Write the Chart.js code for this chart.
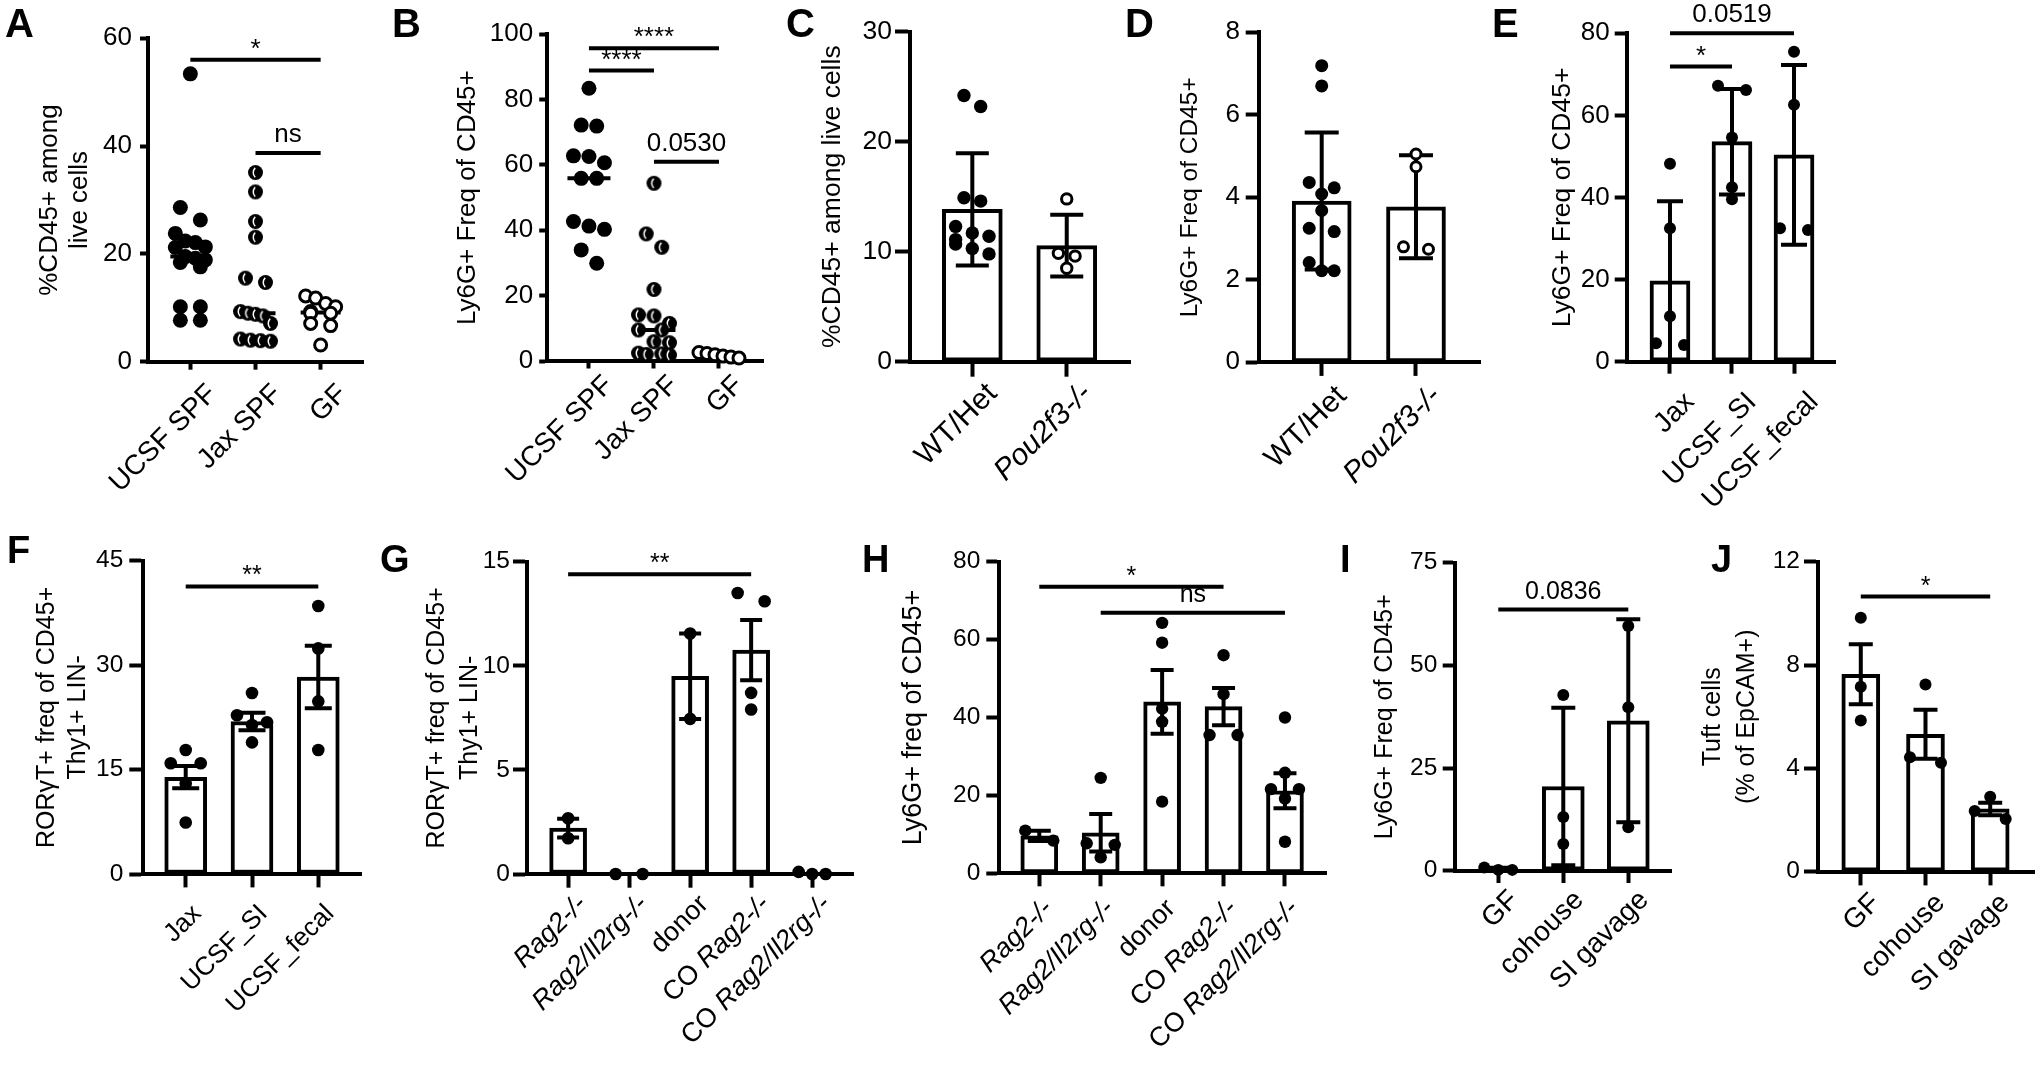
<!DOCTYPE html>
<html><head><meta charset="utf-8">
<script src="https://cdn.jsdelivr.net/npm/chart.js@4.4.1/dist/chart.umd.min.js"></script>
<style>
html,body{margin:0;padding:0;background:#fff;}
#fig{position:relative;width:2040px;height:1069px;overflow:hidden;background:#fff;}
#fig canvas{position:absolute;}
.lbl{position:absolute;font-family:"Liberation Sans",Arial,Helvetica,sans-serif;font-weight:bold;color:#000;white-space:nowrap;}
</style></head>
<body><div id="fig"></div>
<script>
// ================= DATA =================
// A
const catsA = ['UCSF SPF', 'Jax SPF', 'GF'];
const yTicksA = [0, 20, 40, 60];
const A_ucsf = [53.4, 28.6, 26.3, 23.8, 22.4, 22.1, 21.3, 21.2, 19.5, 19.2, 18.9, 18.4, 17.6, 10.2, 10.2, 7.7, 7.7];
const A_jax = [35.1, 31.5, 26.0, 23.1, 15.5, 14.7, 9.3, 9.0, 8.8, 8.5, 7.1, 4.2, 4.0, 3.9, 3.8];
const A_gf = [12.2, 11.8, 10.8, 10.2, 9.3, 9.0, 9.0, 7.1, 6.7, 3.1];
const sigA = [[0, 2, 56.0, '*'], [1, 2, 38.7, 'ns']];
// B
const catsB = ['UCSF SPF', 'Jax SPF', 'GF'];
const yTicksB = [0, 20, 40, 60, 80, 100];
const B_ucsf = [83.5, 72.2, 71.9, 62.8, 62.6, 60.7, 55.9, 55.9, 42.7, 41.3, 40.3, 34.0, 29.9];
const B_jax = [54.4, 38.9, 34.8, 21.9, 14.1, 13.8, 11.5, 9.5, 9.5, 5.9, 5.6, 2.4, 2.2, 2.0, 1.8];
const B_gf = [2.6, 2.3, 1.9, 1.5, 1.2, 0.9];
const sigB = [[0, 2, 95.7, '****'], [0, 1, 88.9, '****'], [1, 2, 61.0, '0.0530']];
// C
const catsC = ['WT/Het', 'Pou2f3-/-'];
const yTicksC = [0, 10, 20, 30];
const C_mean = [13.85, 10.55];
const C_err = [5.1, 2.8];
const C_wt = [24.2, 23.2, 14.9, 14.6, 12.3, 11.7, 11.4, 11.1, 10.7, 10.3, 9.8];
const C_ko = [14.8, 9.85, 9.6, 8.5];
// D
const catsD = ['WT/Het', 'Pou2f3-/-'];
const yTicksD = [0, 2, 4, 6, 8];
const D_mean = [3.91, 3.77];
const D_err = [1.66, 1.25];
const D_wt = [7.19, 6.70, 4.36, 4.23, 4.08, 3.68, 3.25, 3.17, 2.42, 2.22, 2.22];
const D_ko = [5.05, 4.74, 2.80, 2.74];
// E
const catsE = ['Jax', 'UCSF_SI', 'UCSF_fecal'];
const yTicksE = [0, 20, 40, 60, 80];
const E_mean = [19.7, 53.6, 50.4];
const E_err = [19.4, 12.85, 21.9];
const E_jax = [48.2, 32.5, 11.1, 4.47, 4.06];
const E_si = [67.2, 66.2, 54.6, 42.5, 39.6];
const E_fecal = [75.5, 62.6, 32.5, 32.1];
const sigE = [[0, 2, 80.0, '0.0519'], [0, 1, 71.9, '*']];
// F
const catsF = ['Jax', 'UCSF_SI', 'UCSF_fecal'];
const yTicksF = [0, 15, 30, 45];
const F_mean = [13.9, 21.9, 28.3];
const F_err = [1.6, 1.25, 4.5];
const F_jax = [17.8, 15.9, 15.9, 13.0, 7.4];
const F_si = [26.0, 22.8, 21.8, 21.4, 18.9];
const F_fecal = [38.5, 32.4, 24.8, 17.8];
const sigF = [[0, 2, 41.3, '**']];
// G
const catsG = ['Rag2-/-', 'Rag2/Il2rg-/-', 'donor', 'CO Rag2-/-', 'CO Rag2/Il2rg-/-'];
const yTicksG = [0, 5, 10, 15];
const G_mean = [2.2, 0, 9.5, 10.75, 0];
const G_err = [0.45, 0, 2.05, 1.45, 0];
const G_rag2 = [2.68, 1.72];
const G_dko = [0, 0];
const G_donor = [11.55, 7.45];
const G_coRag2 = [13.5, 13.1, 8.7, 7.9];
const G_coDko = [0, 0.1, 0];
const sigG = [[0, 3, 14.4, '**']];
// H
const catsH = ['Rag2-/-', 'Rag2/Il2rg-/-', 'donor', 'CO Rag2-/-', 'CO Rag2/Il2rg-/-'];
const yTicksH = [0, 20, 40, 60, 80];
const H_mean = [9.6, 10.4, 44.0, 42.8, 21.2];
const H_err = [1.3, 4.8, 8.2, 4.8, 4.5];
const H_rag2 = [10.95, 8.4];
const H_dko = [24.5, 7.7, 7.3, 4.1];
const H_donor = [64.3, 59.2, 42.3, 38.9, 18.4];
const H_coRag2 = [56.0, 46.0, 35.5, 35.5];
const H_coDko = [40.0, 25.8, 21.6, 21.6, 19.2, 8.1];
const sigH = [[0, 3, 73.6, '*'], [1, 4, 66.9, 'ns']];
// I
const catsI = ['GF', 'cohouse', 'SI gavage'];
const yTicksI = [0, 25, 50, 75];
const I_mean = [0.4, 20.5, 36.5];
const I_err = [0.3, 19.2, 24.7];
const I_gf = [0.8, 0.2, 0.2];
const I_co = [42.8, 13.1, 6.5];
const I_si = [59.6, 39.8, 10.6];
const sigI = [[0, 2, 63.6, '0.0836']];
// J
const catsJ = ['GF', 'cohouse', 'SI gavage'];
const yTicksJ = [0, 4, 8, 12];
const J_mean = [7.64, 5.32, 2.43];
const J_err = [1.16, 0.95, 0.24];
const J_gf = [9.83, 7.16, 5.85];
const J_co = [7.25, 4.43, 4.22];
const J_si = [2.90, 2.35, 2.04];
const sigJ = [[0, 2, 10.65, '*']];

// ================= STYLE / LAYOUT =================
const FONT = '"Liberation Sans", Arial, Helvetica, sans-serif';
const LW = 4;
const SIG_GAP = 9;
Chart.defaults.font.family = FONT;
Chart.defaults.color = '#000';

const PANELS = [
  {letter:['A',5,37,40], box:[0,0,390,520], area:[148,38.3,363,361.7], cats:catsA, x:[-0.65,2.65], yt:yTicksA,
   groups:[{v:A_ucsf,k:'fill'},{v:A_jax,k:'half'},{v:A_gf,k:'open'}], median:true, medW:40, sig:sigA,
   tickLen:8, tickPad:8, tickFont:26, title:['%CD45+ among','live cells'], titleFont:26, titleLH:30, titleX:50,
   labFont:28, labDx:14, labDy:20, sigFont:26, dotR:7.5, sw:[20,30]},
  {letter:['B',392,37,40], box:[390,0,400,520], area:[546.7,34.3,763,361], cats:catsB, x:[-0.65,2.677], yt:yTicksB,
   groups:[{v:B_ucsf,k:'fill'},{v:B_jax,k:'half'},{v:B_gf,k:'open'}], median:true, medW:43, sig:sigB,
   tickLen:7.5, tickPad:6, tickFont:26, title:['Ly6G+ Freq of CD45+'], titleFont:26, titleLH:30, titleX:468.3,
   labFont:28, labDx:12, labDy:12, sigFont:26, dotR:7.5, sw:[15.5,40]},
  {letter:['C',786,37,40], box:[790,0,350,520], area:[910,31.7,1130,361.7], cats:catsC, x:[-0.66,1.67], yt:yTicksC,
   mean:C_mean, err:C_err, barW:60, capW:33,
   groups:[{v:C_wt,k:'fill'},{v:C_ko,k:'open'}], sig:[],
   tickLen:15, tickPad:3, tickFont:26.5, title:['%CD45+ among live cells'], titleFont:26.5, titleLH:30.5, titleX:833,
   labFont:30, labDx:12, labDy:19, sigFont:26, dotR:6.7, sw:[16.7,50]},
  {letter:['D',1125,37,40], box:[1140,0,370,520], area:[1259.3,32.3,1480,362.3], cats:catsD, x:[-0.662,1.679], yt:yTicksD,
   mean:D_mean, err:D_err, barW:59, capW:34,
   groups:[{v:D_wt,k:'fill'},{v:D_ko,k:'open'}], sig:[],
   tickLen:13.6, tickPad:5.7, tickFont:26, title:['Ly6G+ Freq of CD45+'], titleFont:24.5, titleLH:28, titleX:1190,
   labFont:30, labDx:12, labDy:21, sigFont:26, dotR:6.5, sw:[25,50]},
  {letter:['E',1492,37,40], box:[1510,0,530,520], area:[1626.7,33.3,1835,361.7], cats:catsE, x:[-0.698,2.661], yt:yTicksE,
   mean:E_mean, err:E_err, barW:40, capW:26,
   groups:[{v:E_jax,k:'fill'},{v:E_si,k:'fill'},{v:E_fecal,k:'fill'}], sig:sigE,
   tickLen:12, tickPad:5, tickFont:26, title:['Ly6G+ Freq of CD45+'], titleFont:26.5, titleLH:30, titleX:1563,
   labFont:28, labDx:12, labDy:28, sigFont:26, dotR:6, sw:[28,56]},
  {letter:['F',7,563,38], box:[0,520,380,549], area:[142.7,560.7,361.7,874], cats:catsF, x:[-0.649,2.655], yt:yTicksF,
   mean:F_mean, err:F_err, barW:42, capW:27,
   groups:[{v:F_jax,k:'fill'},{v:F_si,k:'fill'},{v:F_fecal,k:'fill'}], sig:sigF,
   tickLen:13.4, tickPad:6, tickFont:24.5, title:['RORγT+ freq of CD45+','Thy1+ LIN-'], titleFont:25, titleLH:31.6, titleX:46.7,
   labFont:26, labDx:4, labDy:28, sigFont:25, dotR:6.3, sw:[30,60]},
  {letter:['G',380,572,38], box:[380,520,480,549], area:[526.7,561.7,855,874], cats:catsG, x:[-0.679,4.681], yt:yTicksG,
   mean:G_mean, err:G_err, barW:37, capW:22,
   groups:[{v:G_rag2,k:'fill'},{v:G_dko,k:'fill'},{v:G_donor,k:'fill'},{v:G_coRag2,k:'fill'},{v:G_coDko,k:'fill'}], sig:sigG,
   tickLen:13.7, tickPad:3, tickFont:24.5, title:['RORγT+ freq of CD45+','Thy1+ LIN-'], titleFont:25, titleLH:33.3, titleX:436.7,
   labFont:27, labDx:6, labDy:18, sigFont:25, dotR:6.3, sw:[27,28]},
  {letter:['H',862,572,38], box:[860,520,480,549], area:[999.3,561.7,1326,873.3], cats:catsH, x:[-0.651,4.668], yt:yTicksH,
   mean:H_mean, err:H_err, barW:37, capW:23,
   groups:[{v:H_rag2,k:'fill'},{v:H_dko,k:'fill'},{v:H_donor,k:'fill'},{v:H_coRag2,k:'fill'},{v:H_coDko,k:'fill'}], sig:sigH,
   tickLen:13, tickPad:6, tickFont:24.5, title:['Ly6G+ freq of CD45+'], titleFont:27, titleLH:31, titleX:913.3,
   labFont:27, labDx:1, labDy:23, sigFont:25, dotR:6.2, sw:[28,56]},
  {letter:['I',1340,572,38], box:[1340,520,350,549], area:[1455,562.7,1671.7,870.7], cats:catsI, x:[-0.666,2.668], yt:yTicksI,
   mean:I_mean, err:I_err, barW:42, capW:24,
   groups:[{v:I_gf,k:'fill'},{v:I_co,k:'fill'},{v:I_si,k:'fill'}], sig:sigI,
   tickLen:12.3, tickPad:5.4, tickFont:24.5, title:['Ly6G+ Freq of CD45+'], titleFont:25, titleLH:29, titleX:1385,
   labFont:28, labDx:8, labDy:17, sigFont:25, dotR:6, sw:[28,30]},
  {letter:['J',1711,572,38], box:[1690,520,350,549], area:[1817.7,561.7,2035,871.7], cats:catsJ, x:[-0.666,2.677], yt:yTicksJ,
   mean:J_mean, err:J_err, barW:38, capW:24,
   groups:[{v:J_gf,k:'fill'},{v:J_co,k:'fill'},{v:J_si,k:'fill'}], sig:sigJ,
   tickLen:13.7, tickPad:4, tickFont:24.5, title:['Tuft cells','(% of EpCAM+)'], titleFont:25, titleLH:33.4, titleX:1713.3,
   labFont:28, labDx:7, labDy:19, sigFont:25, dotR:6, sw:[31,62]}
];

// ================= HELPERS =================
const fig = document.getElementById('fig');

function italicSegments(label) {
  return label.split(/(Rag2\S*|Pou2f3\S*)/).filter(s => s.length)
    .map(s => ({text: s, it: /^(Rag2|Pou2f3)/.test(s)}));
}
function median(a) {
  const s = [...a].sort((x, y) => x - y); const n = s.length;
  return n % 2 ? s[(n - 1) / 2] : (s[n / 2 - 1] + s[n / 2]) / 2;
}
function makeHalfMarker(r) {
  const c = document.createElement('canvas');
  const s = Math.ceil(2 * r + 2); c.width = s; c.height = s;
  const g = c.getContext('2d');
  g.beginPath(); g.arc(s / 2, s / 2, r, 0, 2 * Math.PI); g.fillStyle = '#000'; g.fill();
  g.strokeStyle = '#fff'; g.lineWidth = 1.5;
  g.beginPath(); g.arc(s / 2 + r * 0.55, s / 2, r * 0.85, Math.PI * 0.74, Math.PI * 1.26); g.stroke();
  return c;
}
function markerStyle(kind, r) {
  if (kind === 'open') return {pointStyle: 'circle', pointRadius: r - 1.5, pointBackgroundColor: '#fff', pointBorderColor: '#000', pointBorderWidth: 3};
  if (kind === 'half') return {pointStyle: makeHalfMarker(r), pointRadius: r};
  return {pointStyle: 'circle', pointRadius: r, pointBackgroundColor: '#000', pointBorderColor: '#000', pointBorderWidth: 0};
}
// Prism-like symmetric point arrangement (pixel space)
function swarm(vals, ppu, d, s, W) {
  const order = vals.map((v, i) => i).sort((a, b) => vals[b] - vals[a] || a - b);
  const pts = [];
  const lim = d * 0.95;
  const spread = row => { const n = row.length; const sp = n > 1 ? Math.min(s, W / (n - 1)) : 0; row.forEach((p, k) => p.x = (k - (n - 1) / 2) * sp); };
  for (const i of order) {
    const y = vals[i] * ppu;
    const hit = pts.find(p => Math.hypot(p.x, p.y - y) < lim);
    if (!hit) { const p = {i, x: 0, y}; p.row = [p]; pts.push(p); continue; }
    const row = hit.row;
    if (Math.abs(row[0].y - y) < d * 0.9) { const p = {i, x: 0, y, row}; row.push(p); pts.push(p); spread(row); continue; }
    let best = 0, bestD = -1;
    outer: for (let k = 1; k <= 20; k++) {
      for (const sg of [-1, 1]) {
        const x = sg * k * s / 2;
        if (Math.abs(x) > W / 2 + 0.01) break outer;
        const m = Math.min(...pts.map(p => Math.hypot(p.x - x, p.y - y)));
        if (m >= lim) { best = x; break outer; }
        if (m > bestD) { bestD = m; best = x; }
      }
    }
    const p = {i, x: best, y}; p.row = [p]; pts.push(p);
  }
  const out = new Array(vals.length).fill(0);
  pts.forEach(p => out[p.i] = p.x);
  return out;
}

function makePlugin(P) {
  return {
    id: 'figExtras',
    beforeDatasetsDraw(chart) {
      if (!P.median) return;
      const ctx = chart.ctx, xs = chart.scales.x, ys = chart.scales.y;
      ctx.save(); ctx.strokeStyle = '#000'; ctx.lineWidth = LW;
      P.groups.forEach((g, i) => {
        const x = xs.getPixelForValue(i), y = ys.getPixelForValue(median(g.v));
        ctx.beginPath(); ctx.moveTo(x - P.medW / 2, y); ctx.lineTo(x + P.medW / 2, y); ctx.stroke();
      });
      ctx.restore();
    },
    afterDatasetDraw(chart, args) {
      if (!P.mean || args.index !== 0) return;
      const ctx = chart.ctx, xs = chart.scales.x, ys = chart.scales.y;
      ctx.save(); ctx.strokeStyle = '#000'; ctx.lineWidth = LW;
      P.mean.forEach((m, i) => {
        const e = P.err[i]; if (!e) return;
        const x = xs.getPixelForValue(i);
        const y1 = ys.getPixelForValue(m + e), y2 = ys.getPixelForValue(Math.max(m - e, ys.min));
        ctx.beginPath();
        ctx.moveTo(x, y1); ctx.lineTo(x, y2);
        ctx.moveTo(x - P.capW / 2, y1); ctx.lineTo(x + P.capW / 2, y1);
        ctx.moveTo(x - P.capW / 2, y2); ctx.lineTo(x + P.capW / 2, y2);
        ctx.stroke();
      });
      ctx.restore();
    },
    afterDraw(chart) {
      const ctx = chart.ctx, xs = chart.scales.x, ys = chart.scales.y;
      ctx.save();
      (P.sig || []).forEach(([a, b, v, txt]) => {
        const x1 = xs.getPixelForValue(a), x2 = xs.getPixelForValue(b), y = ys.getPixelForValue(v);
        ctx.strokeStyle = '#000'; ctx.lineWidth = LW;
        ctx.beginPath(); ctx.moveTo(x1, y); ctx.lineTo(x2, y); ctx.stroke();
        ctx.font = `${P.sigFont}px ${FONT}`; ctx.fillStyle = '#000';
        ctx.textAlign = 'center'; ctx.textBaseline = 'alphabetic';
        const m = ctx.measureText(txt);
        ctx.fillText(txt, (x1 + x2) / 2, y - LW / 2 - SIG_GAP - m.actualBoundingBoxDescent);
      });
      const yb = chart.chartArea.bottom;
      const fn = it => `${it ? 'italic ' : ''}${P.labFont}px ${FONT}`;
      P.cats.forEach((lab, i) => {
        const segs = italicSegments(lab);
        const x = xs.getPixelForValue(i);
        let total = 0;
        segs.forEach(sg => { ctx.font = fn(sg.it); sg.w = ctx.measureText(sg.text).width; total += sg.w; });
        ctx.font = fn(false);
        const cap = ctx.measureText('H').actualBoundingBoxAscent;
        ctx.save();
        ctx.translate(x + P.labDx, yb + P.labDy); ctx.rotate(-Math.PI / 4);
        ctx.textAlign = 'left'; ctx.textBaseline = 'alphabetic'; ctx.fillStyle = '#000';
        let cx = -total;
        segs.forEach(sg => { ctx.font = fn(sg.it); ctx.fillText(sg.text, cx, cap); cx += sg.w; });
        ctx.restore();
      });
      ctx.restore();
    }
  };
}

function buildPanel(P) {
  const [bl, bt, bw, bh] = P.box;
  const [al, at, ar, ab] = P.area;
  const cv = document.createElement('canvas');
  cv.width = bw; cv.height = bh;
  Object.assign(cv.style, {left: bl + 'px', top: bt + 'px', width: bw + 'px', height: bh + 'px'});
  fig.appendChild(cv);

  const datasets = [];
  if (P.mean) {
    datasets.push({type: 'bar', data: P.mean.map((m, i) => ({x: i, y: m})), backgroundColor: '#fff',
      borderColor: '#000', borderWidth: LW, borderSkipped: false, barThickness: P.barW, order: 2, clip: false});
  }
  P.groups.forEach((g, gi) => {
    datasets.push(Object.assign({type: 'scatter', data: g.v.map(v => ({x: gi, y: v})), order: 1, clip: false},
      markerStyle(g.k, P.dotR)));
  });

  const gridOpts = {display: true, offset: false, drawOnChartArea: false, drawTicks: true, tickLength: P.tickLen, tickWidth: LW, tickColor: '#000'};
  const borderOpts = {display: true, color: '#000', width: LW};
  const zeroPad = s => { s.paddingTop = 0; s.paddingBottom = 0; s.paddingLeft = 0; s.paddingRight = 0; };

  const chart = new Chart(cv, {
    type: 'scatter',
    data: {datasets},
    options: {
      responsive: false, animation: false, devicePixelRatio: 1, events: [],
      layout: {padding: {left: 0, top: at - bt, right: bl + bw - ar, bottom: 0}},
      plugins: {legend: {display: false}, tooltip: {enabled: false}},
      scales: {
        x: {
          type: 'linear', offset: false, bounds: 'data', min: P.x[0], max: P.x[1],
          afterBuildTicks: s => { s.ticks = P.cats.map((_, i) => ({value: i})); },
          afterFit: s => { s.height = bt + bh - ab; zeroPad(s); },
          ticks: {display: false},
          grid: gridOpts, border: borderOpts
        },
        y: {
          type: 'linear', offset: false, min: P.yt[0], max: P.yt[P.yt.length - 1],
          afterBuildTicks: s => { s.ticks = P.yt.map(v => ({value: v})); },
          afterFit: s => { s.width = al - bl; zeroPad(s); },
          ticks: {autoSkip: false, font: {size: P.tickFont}, color: '#000', padding: P.tickPad},
          grid: gridOpts, border: borderOpts,
          title: {display: true, text: P.title, color: '#000',
            font: {size: P.titleFont, lineHeight: P.titleLH + 'px'},
            padding: {top: P.titleX - bl - P.titleLH / 2, bottom: 0}}
        }
      }
    },
    plugins: [makePlugin(P)]
  });

  // arrange points horizontally (Prism-style) using the chart's own scales
  const xs = chart.scales.x, ys = chart.scales.y;
  const ppu = Math.abs(ys.getPixelForValue(1) - ys.getPixelForValue(0));
  const ppx = Math.abs(xs.getPixelForValue(1) - xs.getPixelForValue(0));
  const off = P.mean ? 1 : 0;
  P.groups.forEach((g, gi) => {
    const o = swarm(g.v, ppu, 2 * P.dotR, P.sw[0], P.sw[1]);
    chart.data.datasets[gi + off].data = g.v.map((v, k) => ({x: gi + o[k] / ppx, y: v}));
  });
  chart.update('none');

  const [t, lx, base, size] = P.letter;
  const d = document.createElement('div');
  d.className = 'lbl'; d.textContent = t;
  Object.assign(d.style, {left: lx + 'px', top: (base - 0.8465 * size) + 'px', fontSize: size + 'px', lineHeight: size + 'px'});
  fig.appendChild(d);
}

PANELS.forEach(buildPanel);
</script>
</body></html>
